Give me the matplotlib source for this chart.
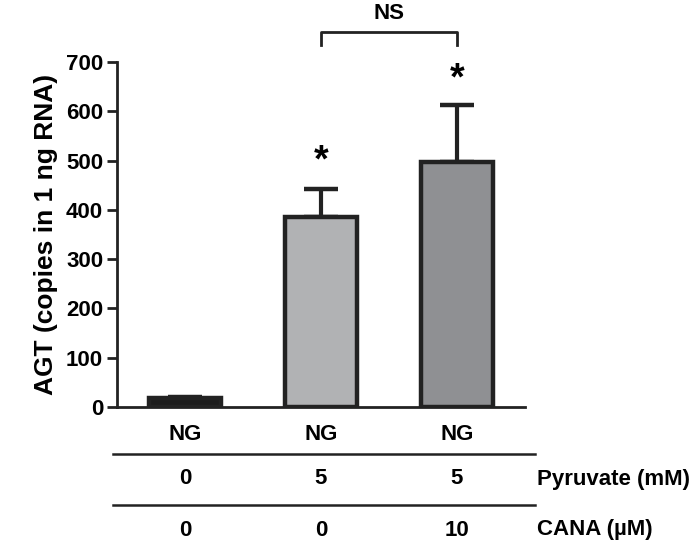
import numpy as np
import matplotlib.pyplot as plt
from matplotlib.lines import Line2D

plt.rcParams['font.family'] = ['Liberation Sans', 'DejaVu Sans']
plt.rcParams['font.weight'] = 'bold'

# data
groups = ['NG', 'NG', 'NG']
pyruvate = ['0', '5', '5']
cana = ['0', '0', '10']
agt = [18, 385, 497]
agt_err = [2, 58, 115]
bar_colors = ['#1c1c1c', '#b1b2b4', '#8f9093']
edge = '#222222'

fig = plt.figure(figsize=(7, 5.48), dpi=100)
ax = fig.add_axes([117/700, 1-407/548, 408/700, 345/548])

x = np.arange(len(agt))
ax.bar(x, agt, width=0.53, color=bar_colors, edgecolor=edge, linewidth=3.2, zorder=3)
ax.errorbar(x, agt, yerr=[np.zeros(len(agt)), agt_err], fmt='none', ecolor=edge,
            elinewidth=3, capsize=12, capthick=3.2, zorder=2)

ax.set_xlim(-0.5, 2.5)
ax.set_ylim(0, 700)
ax.set_yticks(np.arange(0, 701, 100))
ax.set_xticks([])
for s in ['top', 'right']:
    ax.spines[s].set_visible(False)
for s in ['left', 'bottom']:
    ax.spines[s].set_linewidth(2)
    ax.spines[s].set_color(edge)
ax.tick_params(axis='y', length=7, width=2, pad=3, labelsize=16, color=edge)
for lab in ax.get_yticklabels():
    lab.set_fontweight('bold')
ax.set_ylabel('AGT (copies in 1 ng RNA)', fontsize=19, fontweight='bold', labelpad=6)

# significance marks
ax.text(1, 498, '*', ha='center', va='center', fontsize=27, fontweight='bold')
ax.text(2, 665, '*', ha='center', va='center', fontsize=27, fontweight='bold')
ax.plot([1, 1, 2, 2], [734, 761, 761, 734], color=edge, lw=2, clip_on=False)
ax.text(1.5, 799, 'NS', ha='center', va='center', fontsize=16, fontweight='bold')

# condition table under the chart
col_x = [185/700, 321/700, 457/700]
rows = [(groups, 435, None), (pyruvate, 479, 'Pyruvate (mM)'), (cana, 530, 'CANA (\u00b5M)')]
for vals, ypx, name in rows:
    yy = 1 - ypx/548
    for cx, v in zip(col_x, vals):
        fig.text(cx, yy, v, ha='center', va='center', fontsize=16, fontweight='bold')
    if name:
        fig.text(537/700, yy, name, ha='left', va='center', fontsize=16, fontweight='bold')
for ypx in [454, 505]:
    fig.add_artist(Line2D([113/700, 535/700], [1-ypx/548]*2, color=edge, lw=1.8))

fig.savefig('out.png', dpi=100)
